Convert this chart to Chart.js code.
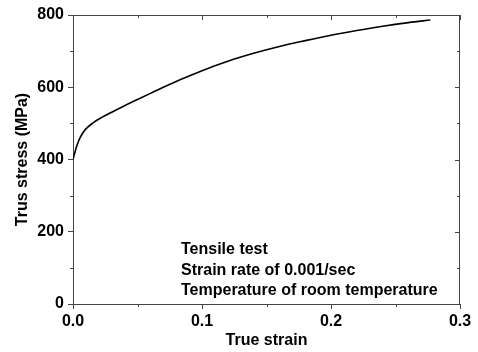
<!DOCTYPE html>
<html>
<head>
<meta charset="utf-8">
<script src="https://cdn.jsdelivr.net/npm/chart.js@4/dist/chart.umd.min.js"></script>
<style>
  html, body { margin: 0; padding: 0; background: #fff; }
  #wrap { width: 478px; height: 352px; }
</style>
</head>
<body>
<div id="wrap"><canvas id="curve"></canvas></div>
<script>
const strain = [0, 0.0028, 0.0054, 0.0093, 0.0158, 0.022, 0.03, 0.04, 0.05, 0.06, 0.07, 0.08, 0.09, 0.1, 0.12, 0.14, 0.16, 0.18, 0.2, 0.22, 0.24, 0.26, 0.277];
const stress = [400, 436, 460, 482, 502, 516, 531, 549, 566, 583, 600, 616, 631, 646, 672, 694, 713, 729, 744, 757, 769, 779, 786];
const xTicks = [0, 0.1, 0.2, 0.3];
const yTicks = [0, 200, 400, 600, 800];
const xMinor = [0.05, 0.15, 0.25];
const yMinor = [100, 300, 500, 700];
const notes = ["Tensile test", "Strain rate of 0.001/sec", "Temperature of room temperature"];

const $ = document;
const axisColor = "#444";
const boldFont = { family: "'Liberation Sans', Arial, sans-serif", size: 16, weight: "bold" };

const framePlugin = {
  id: "frame",
  afterDraw(chart) {
    const ctx = chart.ctx;
    const area = chart.chartArea;
    const xs = chart.scales.x;
    const ys = chart.scales.y;
    ctx.save();
    ctx.strokeStyle = axisColor;
    ctx.lineWidth = 1;
    ctx.beginPath();
    // top and right border
    ctx.moveTo(area.left, area.top + 0.5);
    ctx.lineTo(area.right, area.top + 0.5);
    ctx.moveTo(area.right - 0.5, area.top);
    ctx.lineTo(area.right - 0.5, area.bottom);
    // inward ticks on top and right
    xTicks.concat(xMinor).forEach(v => {
      const px = Math.round(xs.getPixelForValue(v)) + 0.5;
      const len = xMinor.includes(v) ? 3 : 5;
      ctx.moveTo(px, area.top);
      ctx.lineTo(px, area.top + len);
    });
    yTicks.concat(yMinor).forEach(v => {
      const py = Math.round(ys.getPixelForValue(v)) + 0.5;
      const len = yMinor.includes(v) ? 3 : 5;
      ctx.moveTo(area.right, py);
      ctx.lineTo(area.right - len, py);
    });
    // short minor ticks on bottom and left
    xMinor.forEach(v => {
      const px = Math.round(xs.getPixelForValue(v)) + 0.5;
      ctx.moveTo(px, area.bottom);
      ctx.lineTo(px, area.bottom + 3);
    });
    yMinor.forEach(v => {
      const py = Math.round(ys.getPixelForValue(v)) + 0.5;
      ctx.moveTo(area.left, py);
      ctx.lineTo(area.left - 3, py);
    });
    ctx.stroke();

    // annotation text
    ctx.fillStyle = "#000";
    ctx.font = "bold 16px 'Liberation Sans', Arial, sans-serif";
    ctx.textBaseline = "alphabetic";
    ctx.textAlign = "left";
    notes.forEach((t, i) => {
      ctx.fillText(t, area.left + 108, area.top + 239 + i * 20.5);
    });
    ctx.restore();
  },
};

const data = {
  datasets: [
    {
      label: "True stress",
      data: strain.map((s, i) => ({ x: s, y: stress[i] })),
      borderColor: "#000",
      borderWidth: 1.6,
      pointRadius: 0,
      showLine: true,
      fill: false,
      cubicInterpolationMode: "monotone",
    },
  ],
};

const config = {
  type: "scatter",
  data: data,
  options: {
    responsive: true,
    maintainAspectRatio: false,
    animation: false,
    layout: { padding: { top: 15, right: 18, left: 0, bottom: 0 } },
    plugins: { legend: { display: false }, tooltip: { enabled: false } },
    scales: {
      x: {
        type: "linear",
        min: 0,
        max: 0.3,
        afterFit(scale) { scale.height = 48; },
        afterBuildTicks(scale) { scale.ticks = xTicks.map(v => ({ value: v })); },
        ticks: {
          color: "#000",
          font: boldFont,
          padding: 3,
          maxRotation: 0,
          callback: v => v.toFixed(1),
        },
        grid: { drawOnChartArea: false, drawTicks: true, tickLength: 5, color: axisColor },
        border: { color: axisColor, width: 1 },
        title: { display: true, text: "True strain", color: "#000", font: boldFont, padding: { top: 0, bottom: 2 } },
      },
      y: {
        type: "linear",
        min: 0,
        max: 800,
        afterFit(scale) { scale.width = 73; },
        afterBuildTicks(scale) { scale.ticks = yTicks.map(v => ({ value: v })); },
        ticks: { color: "#000", font: boldFont, padding: 4 },
        grid: { drawOnChartArea: false, drawTicks: true, tickLength: 5, color: axisColor },
        border: { color: axisColor, width: 1 },
        title: { display: true, text: "Trus stress (MPa)", color: "#000", font: boldFont, padding: { top: 13, bottom: 0 } },
      },
    },
  },
  plugins: [framePlugin],
};

const stressChart = new Chart($.getElementById("curve"), config);
</script>
</body>
</html>
